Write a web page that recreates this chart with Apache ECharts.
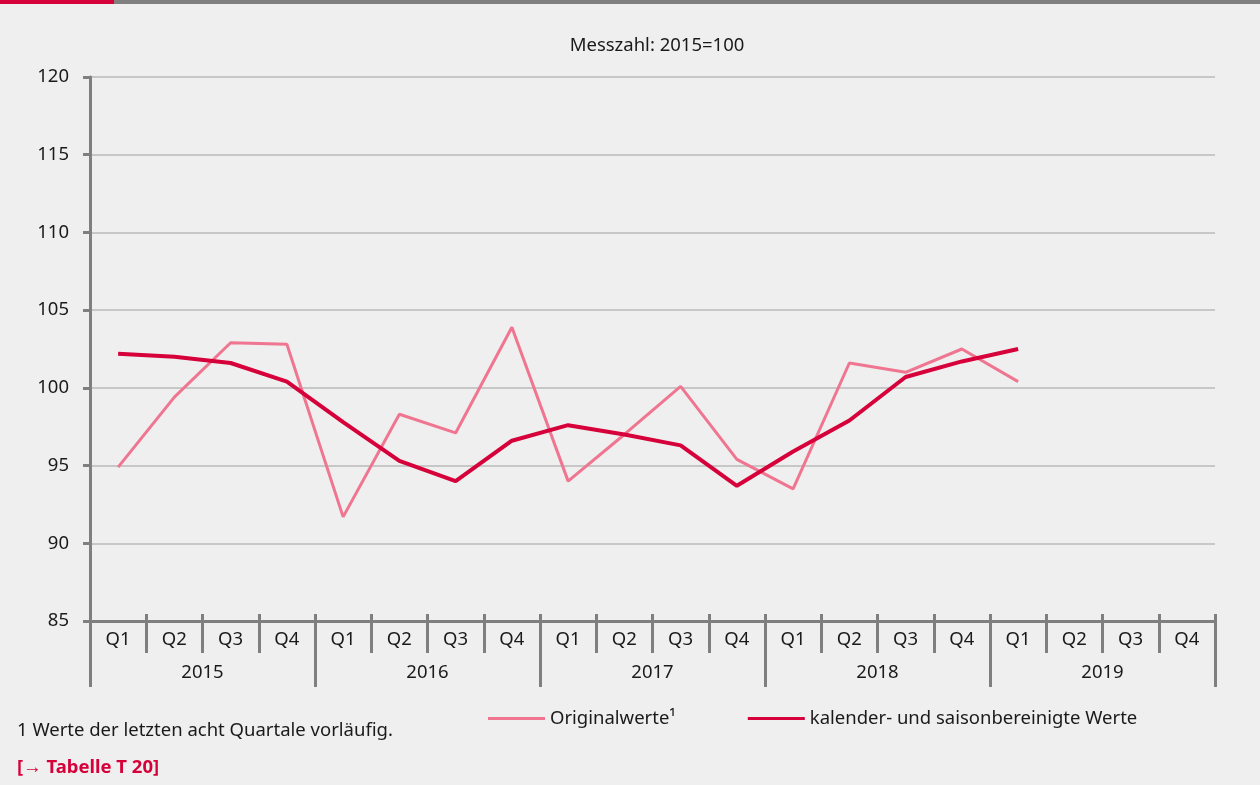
<!DOCTYPE html>
<html>
<head>
<meta charset="utf-8">
<script src="https://cdn.jsdelivr.net/npm/echarts@6/dist/echarts.min.js"></script>
<style>
  html, body { margin: 0; padding: 0; background: #eeefee; }
  #chart { width: 1260px; height: 785px; }
</style>
</head>
<body>
<div id="chart"></div>
<script>
const quarters = ["Q1", "Q2", "Q3", "Q4", "Q1", "Q2", "Q3", "Q4", "Q1", "Q2", "Q3", "Q4",
  "Q1", "Q2", "Q3", "Q4", "Q1", "Q2", "Q3", "Q4"];
const years = ["2015", "2016", "2017", "2018", "2019"];
// Originalwerte (vorläufig für die letzten acht Quartale)
const originalValues = [94.9, 99.4, 102.9, 102.8, 91.7, 98.3, 97.1, 103.9,
  94.0, 97.0, 100.1, 95.4, 93.5, 101.6, 101.0, 102.5, 100.4];
// kalender- und saisonbereinigt
const adjustedValues = [102.2, 102.0, 101.6, 100.4, 97.8, 95.3, 94.0, 96.6,
  97.6, 97.0, 96.3, 93.7, 95.9, 97.9, 100.7, 101.7, 102.5];

const FONT = "Noto Sans";
const FS = 18.5;
const TXT = "#1a1a1a";
const AXIS = "#7f7f7f";
const PINK = "#f07590";
const RED = "#d6003a";

const chart = echarts.init(document.getElementById("chart"));

const option = {
  backgroundColor: "#eeefee",
  textStyle: { fontFamily: FONT },
  title: {
    text: "Messzahl: 2015=100",
    left: 652,
    textAlign: "center",
    top: 31,
    textStyle: { fontFamily: FONT, fontSize: FS, fontWeight: "normal", color: TXT }
  },
  legend: {
    left: 488,
    top: 709,
    padding: 0,
    itemWidth: 57,
    itemHeight: 3,
    itemGap: 72,
    icon: "rect",
    textStyle: { fontFamily: FONT, fontSize: FS, color: TXT },
    data: ["Originalwerte¹", "kalender- und saisonbereinigte Werte"]
  },
  grid: { left: 90, right: 45, top: 77, bottom: 164 },
  xAxis: [
    {
      type: "category",
      data: quarters,
      position: "bottom",
      axisLine: { lineStyle: { color: AXIS, width: 3 } },
      axisTick: { show: true, interval: 0, length: 32, lineStyle: { color: AXIS, width: 3 } },
      axisLabel: { interval: 0, margin: 9, fontFamily: FONT, fontSize: FS, color: TXT },
      splitLine: { show: false }
    },
    {
      type: "category",
      data: years,
      position: "bottom",
      axisLine: { show: false },
      axisTick: { show: true, interval: 0, length: 66, lineStyle: { color: AXIS, width: 3 } },
      axisLabel: { interval: 0, margin: 42, fontFamily: FONT, fontSize: FS, color: TXT },
      splitLine: { show: false }
    },
    {
      type: "category",
      data: quarters,
      position: "bottom",
      axisLine: { show: false },
      axisTick: { show: true, inside: true, interval: 0, length: 7, lineStyle: { color: AXIS, width: 3 } },
      axisLabel: { show: false },
      splitLine: { show: false }
    }
  ],
  yAxis: {
    type: "value",
    min: 85,
    max: 120,
    interval: 5,
    axisLine: { show: true, lineStyle: { color: AXIS, width: 3 } },
    axisTick: { show: true, length: 7, lineStyle: { color: AXIS, width: 3 } },
    axisLabel: { margin: 21, fontFamily: FONT, fontSize: FS, color: TXT },
    splitLine: { lineStyle: { color: "#c6c7c6", width: 2 } }
  },
  series: [
    {
      name: "Originalwerte¹",
      type: "line",
      data: originalValues,
      symbol: "none",
      lineStyle: { color: PINK, width: 3 },
      itemStyle: { color: PINK },
      z: 2
    },
    {
      name: "kalender- und saisonbereinigte Werte",
      type: "line",
      data: adjustedValues,
      symbol: "none",
      lineStyle: { color: RED, width: 4 },
      itemStyle: { color: RED },
      z: 3
    }
  ],
  graphic: [
    { type: "rect", left: 0, top: 0, shape: { width: 1260, height: 4 }, style: { fill: "#808080" } },
    { type: "rect", left: 0, top: 0, shape: { width: 114, height: 4 }, style: { fill: RED } },
    {
      type: "text", left: 17, top: 721,
      style: { text: "1 Werte der letzten acht Quartale vorläufig.", fontFamily: FONT, fontSize: FS, fill: TXT }
    },
    {
      type: "text", left: 17, top: 758,
      style: { text: "[→ Tabelle T 20]", fontFamily: FONT, fontSize: FS, fontWeight: "bold", fill: RED }
    }
  ]
};

chart.setOption(option);
</script>
</body>
</html>
